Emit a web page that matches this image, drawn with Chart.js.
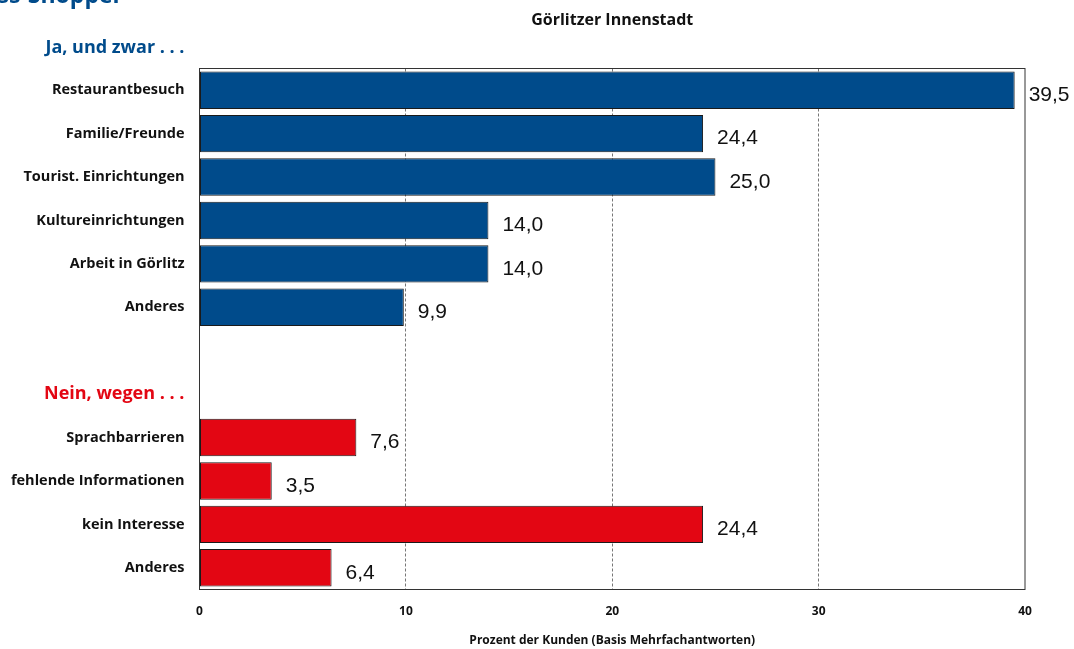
<!DOCTYPE html>
<html>
<head>
<meta charset="utf-8">
<script src="https://cdn.jsdelivr.net/npm/chart.js@4.4.1/dist/chart.umd.min.js"></script>
<style>
  html, body { margin: 0; padding: 0; background: #fff; }
  #wrap { width: 1074px; height: 649px; position: relative; }
</style>
</head>
<body>
<div id="wrap"><canvas id="c" width="1074" height="649"></canvas></div>
<script>
// Reasons given: "Ja" group (visits combined with shopping) and "Nein" group
const jaLabels = ['Restaurantbesuch', 'Familie/Freunde', 'Tourist. Einrichtungen', 'Kultureinrichtungen', 'Arbeit in Görlitz', 'Anderes'];
const jaValues = [39.5, 24.4, 25.0, 14.0, 14.0, 9.9];
const neinLabels = ['Sprachbarrieren', 'fehlende Informationen', 'kein Interesse', 'Anderes'];
const neinValues = [7.6, 3.5, 24.4, 6.4];
const xTicks = [0, 10, 20, 30, 40];

const jaHeading = 'Ja, und zwar . . .';
const neinHeading = 'Nein, wegen . . .';
const titleText = 'Görlitzer Innenstadt';
const xAxisTitle = 'Prozent der Kunden (Basis Mehrfachantworten)';
const cornerText = 'Cross-Shopper';

const BLUE = '#004b8b';
const RED = '#e30613';
const LABEL_FONT = '"Open Sans", sans-serif';

// Category rows: Ja items, a spacer, the Nein heading, then Nein items
const rowLabels = [...jaLabels, '', neinHeading, ...neinLabels];
const headingIndex = jaLabels.length + 1;
const jaData = [...jaValues, null, null, ...neinLabels.map(() => null)];
const neinData = [...jaLabels.map(() => null), null, null, ...neinValues];

const fmt = v => v.toFixed(1).replace('.', ',');

const decor = {
  id: 'decor',
  beforeDatasetsDraw(chart) {
    const { ctx, chartArea: a } = chart;
    ctx.save();
    ctx.strokeStyle = '#333';
    ctx.lineWidth = 1;
    ctx.strokeRect(a.left, a.top, a.right - a.left, a.bottom - a.top);
    ctx.restore();
  },
  afterDatasetsDraw(chart) {
    const { ctx, chartArea: a } = chart;
    ctx.save();
    // value labels next to each bar
    ctx.font = '21px "Liberation Sans", Arial, sans-serif';
    ctx.fillStyle = '#111';
    ctx.textAlign = 'left';
    ctx.textBaseline = 'middle';
    chart.data.datasets.forEach((ds, di) => {
      chart.getDatasetMeta(di).data.forEach((bar, i) => {
        const v = ds.data[i];
        if (v === null || v === undefined) return;
        ctx.fillText(fmt(v), bar.x + 14, bar.y + 5);
      });
    });
    // headings and titles
    ctx.textBaseline = 'middle';
    ctx.fillStyle = BLUE;
    ctx.textAlign = 'right';
    ctx.font = `bold 18px ${LABEL_FONT}`;
    ctx.fillText(jaHeading, a.left - 15, 48);
    ctx.font = `bold 23px ${LABEL_FONT}`;
    ctx.textBaseline = 'alphabetic';
    ctx.fillText(cornerText, 123, 3);
    ctx.fillStyle = '#111';
    ctx.textAlign = 'center';
    ctx.textBaseline = 'middle';
    ctx.font = `bold 16px ${LABEL_FONT}`;
    ctx.fillText(titleText, (a.left + a.right) / 2, 20);
    ctx.font = `bold 12px ${LABEL_FONT}`;
    ctx.fillText(xAxisTitle, (a.left + a.right) / 2, 641);
    ctx.restore();
  }
};

new Chart(document.getElementById('c'), {
  type: 'bar',
  data: {
    labels: rowLabels,
    datasets: [
      { data: jaData, backgroundColor: BLUE, borderColor: '#1a1a1a', borderWidth: 1, borderSkipped: false },
      { data: neinData, backgroundColor: RED, borderColor: '#1a1a1a', borderWidth: 1, borderSkipped: false }
    ]
  },
  options: {
    indexAxis: 'y',
    responsive: false,
    animation: false,
    events: [],
    layout: { padding: { top: 68.5, right: 49, left: 0, bottom: 0 } },
    datasets: { bar: { grouped: false, categoryPercentage: 1, barPercentage: 0.86 } },
    plugins: { legend: { display: false }, tooltip: { enabled: false }, title: { display: false } },
    scales: {
      x: {
        min: 0, max: 40,
        afterFit(s) { s.height = 59.5; },
        afterBuildTicks(s) { s.ticks = xTicks.map(v => ({ value: v })); },
        ticks: { padding: 15, color: '#111', font: { family: LABEL_FONT, size: 12, weight: 'bold' } },
        grid: {
          drawTicks: false,
          color: c => (c.tick && (c.tick.value === 0 || c.tick.value === 40)) ? 'rgba(0,0,0,0)' : '#777',
          lineWidth: 1
        },
        border: { display: false, dash: [3, 2] }
      },
      y: {
        afterFit(s) { s.width = 199.5; },
        ticks: {
          padding: 15,
          autoSkip: false,
          color: c => c.index === headingIndex ? RED : '#111',
          font: c => c.index === headingIndex
            ? { family: LABEL_FONT, size: 18, weight: 'bold' }
            : { family: LABEL_FONT, size: 14.5, weight: 'bold' }
        },
        grid: { display: false, drawTicks: false },
        border: { display: false }
      }
    }
  },
  plugins: [decor]
});
</script>
</body>
</html>
